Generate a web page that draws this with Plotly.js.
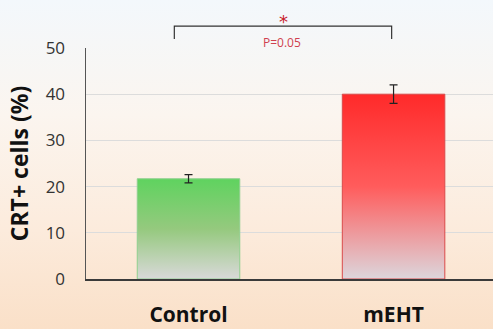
<!DOCTYPE html>
<html>
<head>
<meta charset="utf-8">
<script src="https://cdn.plot.ly/plotly-3.0.1.min.js"></script>
<style>
html,body{margin:0;padding:0;}
body{width:493px;height:329px;overflow:hidden;
background:linear-gradient(to bottom,#f3f8fc 0%,#fbf5ef 35%,#fcebdc 70%,#fae0c8 100%);}
#chart{width:493px;height:329px;}
</style>
</head>
<body>
<div id="chart"></div>
<script>
const categories = ["Control", "mEHT"];
const values = [21.7, 40.0];
const errors = [0.9, 2.0];
const yTicks = [0, 10, 20, 30, 40, 50];
const sigLabel = "*";
const pLabel = "P=0.05";

const trace = {
  type: "bar",
  x: [0, 1],
  y: values,
  width: 0.5,
  marker: {color: ["#66d166", "#ff2e2e"], line: {color: ["#8fcf8f", "#d94a4a"], width: 1}},
  error_y: {type: "data", array: errors, visible: true, color: "#222", thickness: 1.2, width: 4},
  hoverinfo: "none"
};

const layout = {
  width: 493, height: 329,
  margin: {l: 86, r: 0, t: 48, b: 50},
  paper_bgcolor: "rgba(0,0,0,0)",
  plot_bgcolor: "rgba(0,0,0,0)",
  showlegend: false,
  xaxis: {
    range: [-0.5, 1.485],
    tickvals: [0, 1], ticktext: categories,
    showgrid: false, zeroline: false,
    showline: true, linecolor: "#3a3a3a", linewidth: 1.5,
    ticks: "", ticklabelstandoff: 16,
    tickfont: {family: "Open Sans", size: 21, color: "#111", weight: "bold"}
  },
  yaxis: {
    range: [0, 50],
    tickvals: yTicks,
    showgrid: true, gridcolor: "#dcdcdc", gridwidth: 1,
    zeroline: false,
    showline: true, linecolor: "#555", linewidth: 1.5,
    ticks: "", ticklabelstandoff: 16,
    tickfont: {family: "Open Sans", size: 17, color: "#333"},
    title: {text: "<b>CRT+ cells (%)</b>", standoff: 10,
      font: {family: "Open Sans", size: 23, color: "#111"}}
  },
  shapes: [
    {type: "path", xref: "paper", yref: "paper",
     path: "M 0.217 1.039 L 0.217 1.095 L 0.751 1.095 L 0.751 1.039",
     line: {color: "#333", width: 1.2}}
  ],
  annotations: [
    {xref: "paper", yref: "paper", x: 0.485, y: 1.115, text: sigLabel, showarrow: false,
     yanchor: "middle", font: {family: "DejaVu Sans", size: 18, color: "#c8202a"}},
    {xref: "paper", yref: "paper", x: 0.482, y: 1.022, text: pLabel, showarrow: false,
     yanchor: "middle", font: {family: "Open Sans", size: 12, color: "#d0404f"}}
  ]
};

Plotly.newPlot("chart", [trace], layout, {staticPlot: true}).then(function(){
  const svg = document.querySelector("#chart svg.main-svg");
  const ns = "http://www.w3.org/2000/svg";
  let defs = svg.querySelector("defs");
  if (!defs) { defs = document.createElementNS(ns, "defs"); svg.insertBefore(defs, svg.firstChild); }
  function grad(id, top, mid, bottom) {
    const g = document.createElementNS(ns, "linearGradient");
    g.setAttribute("id", id);
    g.setAttribute("x1", "0"); g.setAttribute("y1", "0");
    g.setAttribute("x2", "0"); g.setAttribute("y2", "1");
    [[0, top], [0.5, mid], [1, bottom]].forEach(function(s){
      const st = document.createElementNS(ns, "stop");
      st.setAttribute("offset", s[0]);
      st.setAttribute("stop-color", s[1]);
      g.appendChild(st);
    });
    defs.appendChild(g);
  }
  grad("gGreen", "#5fd35f", "#95c97e", "#d9d9d9");
  grad("gRed", "#ff2a2a", "#ff5c5c", "#dcd6dc");
  const paths = document.querySelectorAll("#chart .bars .point path");
  if (paths[0]) paths[0].style.fill = "url(#gGreen)";
  if (paths[1]) paths[1].style.fill = "url(#gRed)";
});
</script>
</body>
</html>
